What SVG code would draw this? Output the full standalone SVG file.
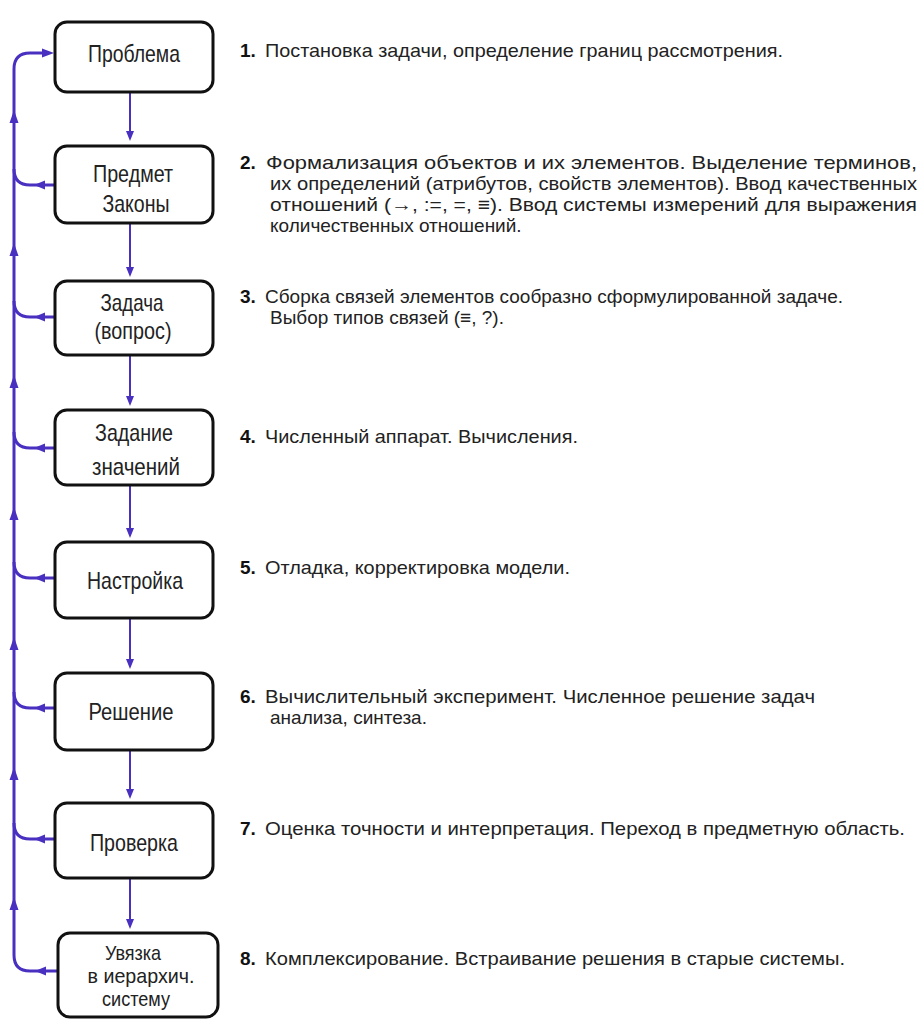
<svg xmlns="http://www.w3.org/2000/svg" xmlns:xlink="http://www.w3.org/1999/xlink" width="922" height="1021" viewBox="0 0 922 1021">
<style>
.box{fill:#fff;stroke:#111;stroke-width:3}
.bt{font-family:"Liberation Sans",Arial,sans-serif;font-size:24px;fill:#222;text-anchor:middle}
.bs{font-size:21px}
.num{font-family:"Liberation Sans",Arial,sans-serif;font-size:19px;font-weight:bold;fill:#111}
.tx{font-family:"Liberation Sans",Arial,sans-serif;font-size:19px;fill:#222}
.ln{fill:none;stroke:#4a30c0;stroke-width:3}
.dn{fill:none;stroke:#4a30c0;stroke-width:2}
.ah{fill:#4a30c0}
</style>
<defs>
<path id="up" d="M0,0 L-4.5,13 L4.5,13 Z"/>
<path id="left" d="M0,0 L11,-4.5 L11,4.5 Z"/>
<path id="down" d="M0,0 L-4,-10 L4,-10 Z"/>
</defs>
<rect width="922" height="1021" fill="#fff"/>
<g id="connectors">
<path class="ln" d="M14,955 L14,69 Q14,53 30,53 L44,53"/>
<path class="ah" d="M54,53 L42,48.5 L42,57.5 Z"/>
<g class="ah">
<use xlink:href="#up" x="14" y="110"/>
<use xlink:href="#up" x="14" y="243"/>
<use xlink:href="#up" x="14" y="375"/>
<use xlink:href="#up" x="14" y="507"/>
<use xlink:href="#up" x="14" y="637"/>
<use xlink:href="#up" x="14" y="767"/>
<use xlink:href="#up" x="14" y="897"/>
</g>
<path class="ln" d="M55,185 L30,185 Q14,185 14,169"/>
<path class="ln" d="M55,317 L30,317 Q14,317 14,301"/>
<path class="ln" d="M55,448 L30,448 Q14,448 14,432"/>
<path class="ln" d="M55,578 L30,578 Q14,578 14,562"/>
<path class="ln" d="M55,708 L30,708 Q14,708 14,692"/>
<path class="ln" d="M55,839 L30,839 Q14,839 14,823"/>
<path class="ln" d="M58,971 L30,971 Q14,971 14,955"/>
<g class="ah">
<use xlink:href="#left" x="34" y="185"/>
<use xlink:href="#left" x="34" y="317"/>
<use xlink:href="#left" x="34" y="448"/>
<use xlink:href="#left" x="34" y="578"/>
<use xlink:href="#left" x="34" y="708"/>
<use xlink:href="#left" x="34" y="839"/>
<use xlink:href="#left" x="35" y="971"/>
</g>
<path class="dn" d="M130,93 V136 M130,224 V273 M130,356 V402 M130,486 V534 M130,619 V665 M130,751 V795 M130,879 V925"/>
<g class="ah">
<use xlink:href="#down" x="130" y="141"/>
<use xlink:href="#down" x="130" y="277"/>
<use xlink:href="#down" x="130" y="406"/>
<use xlink:href="#down" x="130" y="538"/>
<use xlink:href="#down" x="130" y="669"/>
<use xlink:href="#down" x="130" y="799"/>
<use xlink:href="#down" x="130" y="929"/>
</g>
</g>
<g id="n1"><rect class="box" x="55" y="22" width="158" height="70" rx="12"/><text class="bt" x="134" y="62" textLength="92" lengthAdjust="spacingAndGlyphs">Проблема</text></g>
<g id="n2"><rect class="box" x="55" y="146" width="158" height="77" rx="12"/><text class="bt" x="133" y="182" textLength="80" lengthAdjust="spacingAndGlyphs">Предмет</text><text class="bt" x="136" y="212" textLength="67" lengthAdjust="spacingAndGlyphs">Законы</text></g>
<g id="n3"><rect class="box" x="55" y="281" width="158" height="74" rx="12"/><text class="bt" x="132" y="311" textLength="63" lengthAdjust="spacingAndGlyphs">Задача</text><text class="bt" x="133" y="339" textLength="77" lengthAdjust="spacingAndGlyphs">(вопрос)</text></g>
<g id="n4"><rect class="box" x="55" y="410" width="158" height="75" rx="12"/><text class="bt" x="134" y="441" textLength="78" lengthAdjust="spacingAndGlyphs">Задание</text><text class="bt" x="136" y="475" textLength="88" lengthAdjust="spacingAndGlyphs">значений</text></g>
<g id="n5"><rect class="box" x="55" y="542" width="158" height="76" rx="12"/><text class="bt" x="135" y="589" textLength="96" lengthAdjust="spacingAndGlyphs">Настройка</text></g>
<g id="n6"><rect class="box" x="55" y="673" width="158" height="77" rx="12"/><text class="bt" x="131" y="720" textLength="85" lengthAdjust="spacingAndGlyphs">Решение</text></g>
<g id="n7"><rect class="box" x="55" y="803" width="158" height="75" rx="12"/><text class="bt" x="134" y="851" textLength="88" lengthAdjust="spacingAndGlyphs">Проверка</text></g>
<g id="n8"><rect class="box" x="58" y="933" width="160" height="84" rx="12"/><text class="bt bs" x="133" y="960" textLength="56" lengthAdjust="spacingAndGlyphs">Увязка</text><text class="bt bs" x="141" y="983" textLength="107" lengthAdjust="spacingAndGlyphs">в иерархич.</text><text class="bt bs" x="136" y="1006" textLength="68" lengthAdjust="spacingAndGlyphs">систему</text></g>
<g id="texts">
<text class="num" x="240" y="57">1.</text><text class="tx" x="265" y="57" textLength="518" lengthAdjust="spacingAndGlyphs">Постановка задачи, определение границ рассмотрения.</text>
<text class="num" x="240" y="169">2.</text><text class="tx" x="266" y="169" textLength="651" lengthAdjust="spacingAndGlyphs">Формализация объектов и их элементов. Выделение терминов,</text>
<text class="tx" x="270" y="190" textLength="647" lengthAdjust="spacingAndGlyphs">их определений (атрибутов, свойств элементов). Ввод качественных</text>
<text class="tx" x="270" y="211" textLength="647" lengthAdjust="spacingAndGlyphs">отношений (→, :=, =, ≡). Ввод системы измерений для выражения</text>
<text class="tx" x="270" y="232">количественных отношений.</text>
<text class="num" x="240" y="303">3.</text><text class="tx" x="265" y="303" textLength="578" lengthAdjust="spacingAndGlyphs">Сборка связей элементов сообразно сформулированной задаче.</text>
<text class="tx" x="270" y="324">Выбор типов связей (≡, ?).</text>
<text class="num" x="240" y="443">4.</text><text class="tx" x="265" y="443" textLength="313" lengthAdjust="spacingAndGlyphs">Численный аппарат. Вычисления.</text>
<text class="num" x="240" y="574">5.</text><text class="tx" x="265" y="574" textLength="305" lengthAdjust="spacingAndGlyphs">Отладка, корректировка модели.</text>
<text class="num" x="240" y="703">6.</text><text class="tx" x="265" y="703" textLength="550" lengthAdjust="spacingAndGlyphs">Вычислительный эксперимент. Численное решение задач</text>
<text class="tx" x="270" y="724">анализа, синтеза.</text>
<text class="num" x="240" y="835">7.</text><text class="tx" x="265" y="835" textLength="640" lengthAdjust="spacingAndGlyphs">Оценка точности и интерпретация. Переход в предметную область.</text>
<text class="num" x="240" y="965">8.</text><text class="tx" x="265" y="965" textLength="580" lengthAdjust="spacingAndGlyphs">Комплексирование. Встраивание решения в старые системы.</text>
</g>
</svg>
